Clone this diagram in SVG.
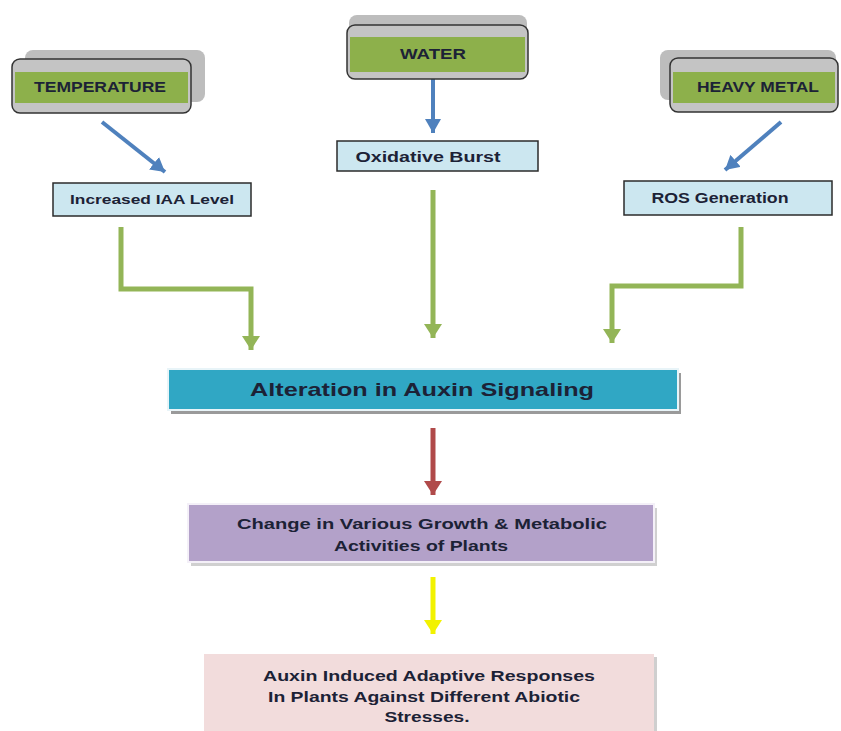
<svg xmlns="http://www.w3.org/2000/svg" width="841" height="731" viewBox="0 0 841 731">
<defs>
<style>
.t{font-family:"Liberation Sans",Arial,sans-serif;font-weight:bold;fill:#1c2236;text-anchor:middle}
.shadowbox{fill:#bdbdbd}
.front{fill:#c4c4c4;stroke:#333;stroke-width:1.5}
.green{fill:#8db04b}
.lb{fill:#cce7f0;stroke:#2b2b2b;stroke-width:1.5}
.blue{stroke:#4f81bd;stroke-width:4;fill:none}
.gr{stroke:#93b557;stroke-width:5;fill:none}
</style>
<marker id="ab" markerUnits="userSpaceOnUse" markerWidth="18" markerHeight="16" refX="14" refY="8" orient="auto"><path d="M0,0 L14,8 L0,16 Z" fill="#4f81bd"/></marker>
<marker id="ag" markerUnits="userSpaceOnUse" markerWidth="18" markerHeight="18" refX="14" refY="9" orient="auto"><path d="M0,0 L14,9 L0,18 Z" fill="#93b557"/></marker>
<marker id="ar" markerUnits="userSpaceOnUse" markerWidth="18" markerHeight="18" refX="14" refY="9" orient="auto"><path d="M0,0 L14,9 L0,18 Z" fill="#b04a4a"/></marker>
<marker id="ay" markerUnits="userSpaceOnUse" markerWidth="18" markerHeight="18" refX="14" refY="9" orient="auto"><path d="M0,0 L14,9 L0,18 Z" fill="#f2f200"/></marker>
</defs>
<rect width="841" height="731" fill="#ffffff"/>
<g id="connectors">
<line class="blue" x1="102" y1="122" x2="165" y2="172" marker-end="url(#ab)"/>
<line class="blue" x1="433" y1="79" x2="433" y2="133" marker-end="url(#ab)"/>
<line class="blue" x1="781" y1="122" x2="725" y2="170" marker-end="url(#ab)"/>
<polyline class="gr" points="121,227 121,289 251,289 251,350" marker-end="url(#ag)"/>
<line class="gr" x1="433" y1="190" x2="433" y2="338" marker-end="url(#ag)"/>
<polyline class="gr" points="741,227 741,286 612,286 612,343" marker-end="url(#ag)"/>
<line stroke="#b04a4a" stroke-width="5" x1="433" y1="428" x2="433" y2="495" marker-end="url(#ar)"/>
<line stroke="#f2f200" stroke-width="5" x1="433" y1="577" x2="433" y2="634" marker-end="url(#ay)"/>
</g>
<g id="temperature">
<rect class="shadowbox" x="25" y="50" width="180" height="52" rx="8"/>
<rect class="front" x="12" y="59" width="179" height="54" rx="8"/>
<rect class="green" x="15" y="72" width="173" height="31"/>
<text class="t" x="100" y="92" font-size="14" textLength="132" lengthAdjust="spacingAndGlyphs">TEMPERATURE</text>
</g>
<g id="water">
<rect class="shadowbox" x="349" y="15" width="178" height="50" rx="8"/>
<rect class="front" x="347" y="25" width="181" height="54" rx="8"/>
<rect class="green" x="350" y="37" width="175" height="35"/>
<text class="t" x="433" y="59" font-size="14" textLength="66" lengthAdjust="spacingAndGlyphs">WATER</text>
</g>
<g id="heavy-metal">
<rect class="shadowbox" x="660" y="50" width="176" height="50" rx="8"/>
<rect class="front" x="670" y="58" width="168" height="54" rx="8"/>
<rect class="green" x="673" y="72" width="162" height="31"/>
<text class="t" x="758" y="92" font-size="14" textLength="122" lengthAdjust="spacingAndGlyphs">HEAVY METAL</text>
</g>
<g id="iaa">
<rect class="lb" x="53" y="183" width="198" height="33"/>
<text class="t" x="152" y="204" font-size="13" textLength="164" lengthAdjust="spacingAndGlyphs">Increased IAA Level</text>
</g>
<g id="oxidative">
<rect class="lb" x="337" y="141" width="201" height="30"/>
<text class="t" x="428" y="162" font-size="14" textLength="145" lengthAdjust="spacingAndGlyphs">Oxidative Burst</text>
</g>
<g id="ros">
<rect class="lb" x="624" y="181" width="208" height="34"/>
<text class="t" x="720" y="203" font-size="14" textLength="137" lengthAdjust="spacingAndGlyphs">ROS Generation</text>
</g>
<g id="alteration">
<rect x="171" y="373" width="510" height="41" fill="#9a9a9a"/>
<rect x="168" y="369" width="510" height="41" fill="#30a7c4" stroke="#e8f4f8" stroke-width="2"/>
<text class="t" x="422" y="396" font-size="19" textLength="344" lengthAdjust="spacingAndGlyphs">Alteration in Auxin Signaling</text>
</g>
<g id="change">
<rect x="191" y="508" width="466" height="58" fill="#d0d0d0"/>
<rect x="188" y="504" width="466" height="58" fill="#b3a1c9" stroke="#f4f0f8" stroke-width="2"/>
<text class="t" x="422" y="529" font-size="15" textLength="370" lengthAdjust="spacingAndGlyphs">Change in Various Growth &amp; Metabolic</text>
<text class="t" x="421" y="551" font-size="15" textLength="174" lengthAdjust="spacingAndGlyphs">Activities of Plants</text>
</g>
<g id="adaptive">
<rect x="207" y="657" width="450" height="80" fill="#cfcfcf"/>
<rect x="204" y="654" width="450" height="80" fill="#f2dcdc"/>
<text class="t" x="429" y="681" font-size="15" textLength="332" lengthAdjust="spacingAndGlyphs">Auxin Induced Adaptive Responses</text>
<text class="t" x="424" y="702" font-size="15" textLength="312" lengthAdjust="spacingAndGlyphs">In Plants Against Different Abiotic</text>
<text class="t" x="427" y="722" font-size="15" textLength="85" lengthAdjust="spacingAndGlyphs">Stresses.</text>
</g>
</svg>
